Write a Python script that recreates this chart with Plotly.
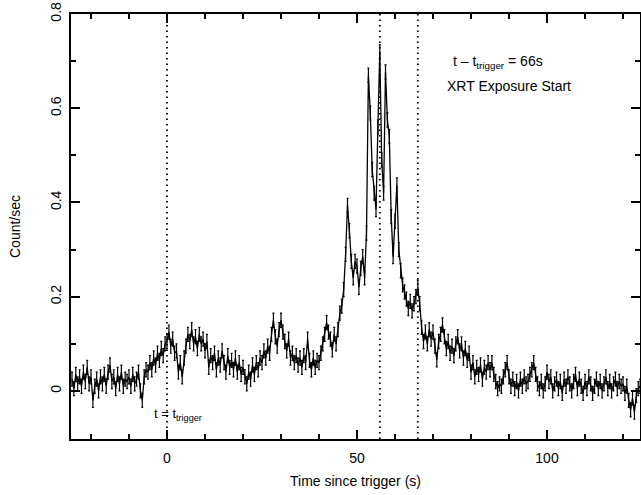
import numpy as np
import plotly.graph_objects as go

# ---- data (count rate in 0.5 s bins, starting at t = -25 s) ----
T_START = -25.0
BIN = 0.5
rate_pre = [  # -25 .. -0.5 s
    0.025, 0.005, 0.035, 0.015, 0.030, 0.010, 0.040, 0.020, 0.050, 0.015,
    0.030, -0.020, 0.010, 0.025, 0.000, 0.030, 0.015, 0.035, 0.010, 0.040,
    0.055, 0.020, 0.030, 0.005, 0.035, 0.015, 0.040, 0.010, 0.025, 0.020,
    0.030, 0.010, 0.035, 0.015, 0.025, 0.040, 0.000, -0.020, 0.030, 0.045,
    0.040, 0.060, 0.045, 0.070, 0.055, 0.080, 0.065, 0.090, 0.075, 0.100,
]
rate_early = [  # 0 .. 44.5 s
    0.105, 0.125, 0.095, 0.110, 0.080, 0.085, 0.040, 0.060, 0.030, 0.070,
    0.095, 0.120, 0.105, 0.130, 0.100, 0.115, 0.090, 0.120, 0.100, 0.110,
    0.085, 0.105, 0.050, 0.075, 0.060, 0.080, 0.045, 0.070, 0.055, 0.085,
    0.060, 0.040, 0.075, 0.050, 0.065, 0.045, 0.070, 0.040, 0.060, 0.035,
    0.050, 0.030, 0.015, 0.040, 0.025, 0.055, 0.035, 0.060, 0.045, 0.070,
    0.060, 0.085, 0.070, 0.095, 0.080, 0.120, 0.150, 0.115, 0.095, 0.130,
    0.150, 0.125, 0.105, 0.085, 0.110, 0.070, 0.080, 0.060, 0.075, 0.055,
    0.070, 0.050, 0.075, 0.060, 0.110, 0.065, 0.045, 0.070, 0.050, 0.065,
    0.060, 0.080, 0.100, 0.120, 0.145, 0.125, 0.110, 0.087, 0.120, 0.100,
]
rate_pulse = [  # 45 .. 69.5 s
    0.130, 0.165, 0.180, 0.215, 0.290, 0.394, 0.340, 0.275, 0.240, 0.275,
    0.265, 0.220, 0.260, 0.285, 0.240, 0.335, 0.670, 0.590, 0.470, 0.420,
    0.385, 0.560, 0.720, 0.490, 0.420, 0.677, 0.575, 0.540, 0.370, 0.285,
    0.360, 0.437, 0.300, 0.255, 0.225, 0.210, 0.195, 0.175, 0.190, 0.170,
    0.185, 0.200, 0.220, 0.185, 0.135, 0.105, 0.125, 0.100, 0.130, 0.110,
]
rate_tail = [  # 70 .. 124.5 s
    0.125, 0.095, 0.066, 0.105, 0.120, 0.140, 0.115, 0.090, 0.105, 0.080,
    0.095, 0.075, 0.100, 0.115, 0.085, 0.100, 0.070, 0.090, 0.065, 0.080,
    0.040, 0.060, 0.030, 0.050, 0.035, 0.055, 0.025, 0.050, 0.040, 0.060,
    0.045, 0.060, 0.035, 0.020, 0.005, 0.015, 0.010, 0.030, 0.045, 0.060,
    0.030, 0.010, 0.025, 0.005, 0.020, 0.000, 0.025, 0.010, 0.030, 0.015,
    0.020, 0.035, 0.045, 0.060, 0.035, 0.015, 0.005, 0.020, 0.000, 0.015,
    0.040, 0.020, 0.030, 0.000, 0.015, 0.025, 0.005, 0.020, -0.005, 0.025,
    0.010, 0.030, 0.015, 0.000, 0.020, 0.035, 0.005, 0.025, 0.010, -0.005,
    0.020, 0.005, 0.030, 0.015, -0.005, 0.010, 0.025, 0.005, 0.020, 0.000,
    0.015, 0.030, 0.005, 0.020, 0.000, 0.015, 0.025, 0.005, 0.020, 0.010,
    0.015, -0.005, 0.010, -0.020, -0.040, -0.015, -0.045, -0.010, 0.005, 0.010,
]
RATE_ERR = 0.015
marker_times = [0, 56, 66]

x_ticks = [0, 50, 100]
y_ticks = [0, 0.2, 0.4, 0.6, 0.8]
y_tick_labels = ["0", "0.2", "0.4", "0.6", "0.8"]

rate = rate_pre + rate_early + rate_pulse + rate_tail
time = T_START + BIN * np.arange(len(rate))

FONT = "Liberation Sans, Arial, Helvetica, sans-serif"

fig = go.Figure()
fig.add_trace(go.Scatter(
    x=time, y=rate, mode="lines",
    line=dict(color="black", width=1.3),
    error_y=dict(type="constant", value=RATE_ERR, color="black",
                 thickness=1.2, width=1),
    showlegend=False, hoverinfo="skip",
))

for t in marker_times:
    fig.add_shape(type="line", xref="x", yref="paper", x0=t, x1=t, y0=0, y1=1,
                  line=dict(color="black", width=1.8, dash="1.5px,4px"))

fig.add_annotation(x=3, y=-0.05, xref="x", yref="y",
                   text="t = t<sub>trigger</sub>", showarrow=False,
                   font=dict(family=FONT, size=13, color="black"))
fig.add_annotation(x=87, y=0.698, xref="x", yref="y",
                   text="t \u2013 t<sub>trigger</sub> = 66s", showarrow=False,
                   font=dict(family=FONT, size=14, color="black"))
fig.add_annotation(x=90, y=0.647, xref="x", yref="y",
                   text="XRT Exposure Start", showarrow=False,
                   font=dict(family=FONT, size=14, color="black"))

axis_common = dict(
    showline=True, linecolor="black", linewidth=1.5, mirror="allticks",
    ticks="inside", tickcolor="black", tickwidth=1.5, ticklen=9,
    showgrid=False, zeroline=False, automargin=False,
    tickfont=dict(family=FONT, size=14, color="black"),
)
fig.update_xaxes(
    range=[-25.26, 124.47], tickvals=x_ticks, ticklabelstandoff=5,
    minor=dict(dtick=10, tick0=0, ticks="inside", ticklen=5, tickwidth=1.5,
               tickcolor="black", showgrid=False),
    title=dict(text="Time since trigger (s)", standoff=12,
               font=dict(family=FONT, size=14, color="black")),
    **axis_common,
)
fig.update_yaxes(
    range=[-0.102, 0.8], tickvals=y_ticks, ticktext=y_tick_labels,
    tickangle=-90, ticklabelstandoff=3,
    minor=dict(dtick=0.1, tick0=0, ticks="inside", ticklen=5, tickwidth=1.5,
               tickcolor="black", showgrid=False),
    title=dict(text="Count/sec", standoff=24,
               font=dict(family=FONT, size=14, color="black")),
    **axis_common,
)
fig.update_layout(
    width=641, height=495, autosize=False,
    margin=dict(l=71, r=1, t=14, b=56),
    plot_bgcolor="white", paper_bgcolor="white",
)
fig.write_html(
    "out.html",
    config={"responsive": False, "displayModeBar": False},
    post_script="document.body.style.margin='0';document.body.style.overflow='hidden';",
)
